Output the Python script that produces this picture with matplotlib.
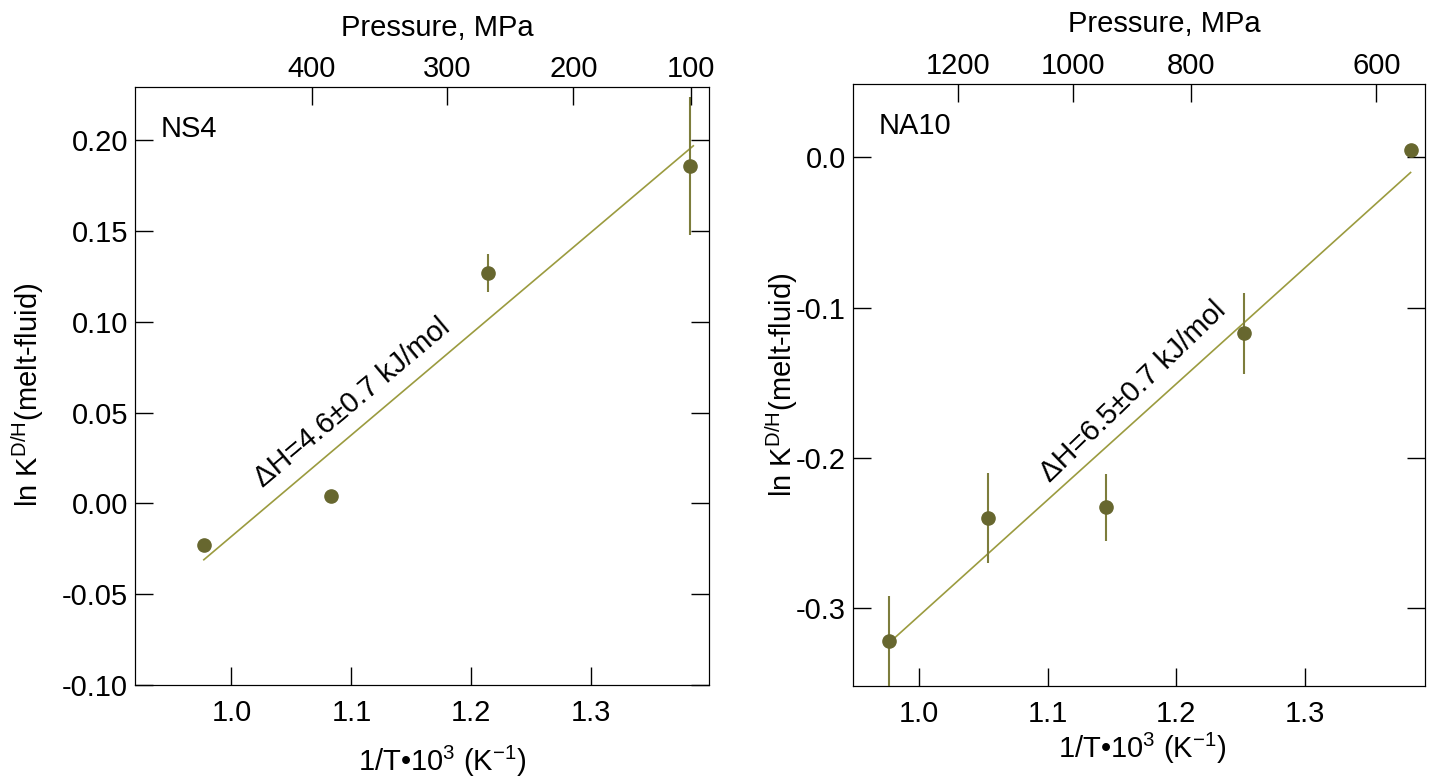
import matplotlib.pyplot as plt

plt.rcParams['font.family'] = ['Liberation Sans', 'DejaVu Sans']
plt.rcParams['mathtext.fontset'] = 'custom'
plt.rcParams['mathtext.rm'] = 'Liberation Sans'
plt.rcParams['mathtext.it'] = 'Liberation Sans:italic'
plt.rcParams['font.size'] = 21

#NS4 panel values
ns4_x = [0.977, 1.083, 1.214, 1.382]
ns4_y = [-0.023, 0.004, 0.127, 0.186]
ns4_err = [0.0, 0.0, 0.0105, 0.038]
ns4_fit_x = [0.977, 1.385]
ns4_fit_y = [-0.031, 0.197]
ns4_p_pos = [1.067, 1.180, 1.285, 1.383]
ns4_p_lab = ["400", "300", "200", "100"]

#NA10 panel values
na10_x = [0.977, 1.054, 1.145, 1.2525, 1.382]
na10_y = [-0.322, -0.240, -0.233, -0.117, 0.005]
na10_err = [0.030, 0.030, 0.022, 0.027, 0.0]
na10_fit_x = [0.977, 1.382]
na10_fit_y = [-0.323, -0.010]
na10_p_pos = [1.030, 1.120, 1.2115, 1.3555]
na10_p_lab = ["1200", "1000", "800", "600"]

dot_col = "#67672f"
bar_col = "#7d7d3c"
fit_col = "#9b9b3f"

fig = plt.figure(figsize=(14.42, 7.81), dpi=100)


def panel(rect, x, y, err, fx, fy, ppos, plab, xlim, ylim, yticks, yfmt, name, note,
          note_xy, note_rot, xlab_pos, ylab_pos, plab_pos):
    ax = fig.add_axes(rect)
    ax.plot(fx, fy, color=fit_col, lw=1.2, zorder=2)
    ax.errorbar(x, y, yerr=err, fmt="o", color=dot_col, ecolor=bar_col,
                elinewidth=1.5, capsize=0, markersize=9.5, zorder=3)
    ax.set_xlim(xlim)
    ax.set_ylim(ylim)
    ax.set_xticks([1.0, 1.1, 1.2, 1.3])
    ax.set_yticks(yticks)
    ax.set_yticklabels([yfmt.format(v) for v in yticks])
    ax.tick_params(direction="in", length=13, width=1, right=True, pad=5)
    ax.tick_params(axis="x", pad=10)
    ax.set_xlabel(r"1/T•10$^3$ (K$^{-1}$)")
    ax.xaxis.set_label_coords(*xlab_pos)
    ax.xaxis.label.set_verticalalignment("baseline")
    ax.set_ylabel(r"ln K$^{\mathrm{D/H}}$(melt-fluid)")
    ax.yaxis.set_label_coords(*ylab_pos)
    ax.yaxis.label.set_verticalalignment("center")
    ax.text(0.045, 0.93, name, transform=ax.transAxes, ha="left", va="center")
    ax.text(note_xy[0], note_xy[1], note, rotation=note_rot, ha="center",
            va="center", rotation_mode="anchor")
    #pressure scale on top
    top = ax.twiny()
    top.set_xlim(xlim)
    top.set_xticks(ppos)
    top.set_xticklabels(plab)
    top.tick_params(direction="in", length=13, width=1, pad=3)
    top.set_xlabel("Pressure, MPa")
    top.xaxis.set_label_coords(*plab_pos)
    top.xaxis.label.set_verticalalignment("baseline")
    return ax


panel([0.0936, 0.1229, 0.398, 0.7657], ns4_x, ns4_y, ns4_err, ns4_fit_x, ns4_fit_y,
      ns4_p_pos, ns4_p_lab, (0.9196, 1.398), (-0.10, 0.2294),
      [-0.10, -0.05, 0.0, 0.05, 0.10, 0.15, 0.20], "{:.2f}",
      "NS4", "ΔH=4.6±0.7 kJ/mol", (1.101, 0.0553), 40,
      (0.535, -0.1433), (-0.1864, 0.485), (0.527, 1.0853))

panel([0.5915, 0.121, 0.3967, 0.7714], na10_x, na10_y, na10_err, na10_fit_x, na10_fit_y,
      na10_p_pos, na10_p_lab, (0.9487, 1.3932), (-0.3522, 0.0489),
      [-0.3, -0.2, -0.1, 0.0], "{:.1f}",
      "NA10", "ΔH=6.5±0.7 kJ/mol", (1.166, -0.156), 44,
      (0.505, -0.119), (-0.124, 0.5), (0.545, 1.0868))

plt.savefig("out.png", dpi=100)
